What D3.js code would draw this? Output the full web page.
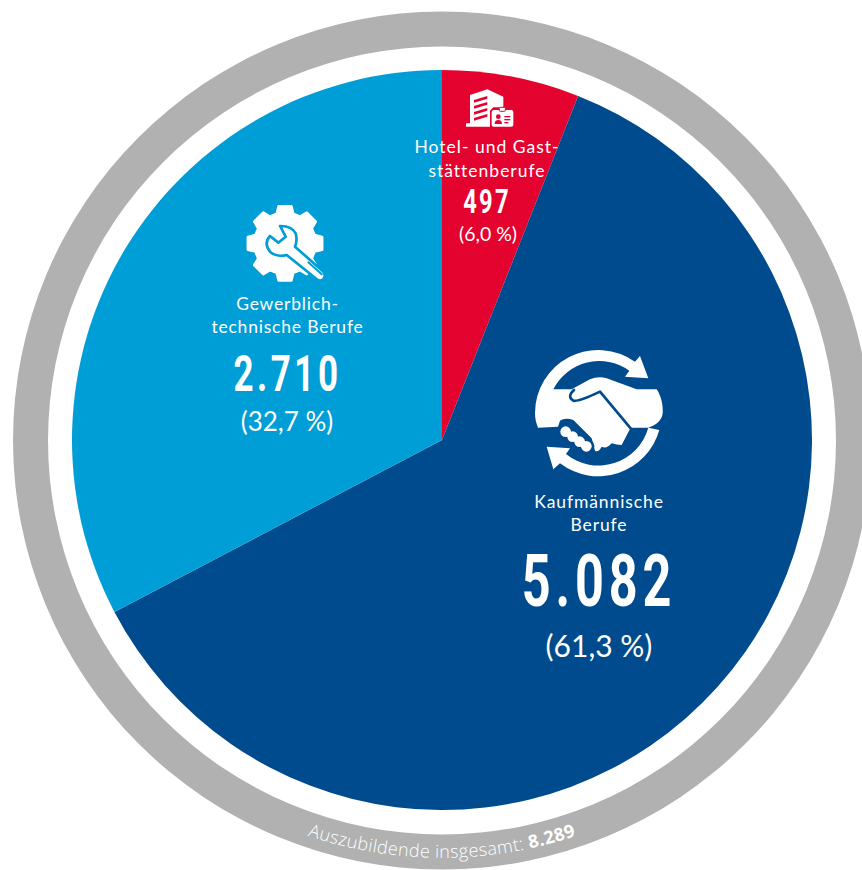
<!DOCTYPE html>
<html><head><meta charset="utf-8">
<script src="https://cdn.jsdelivr.net/npm/d3@7/dist/d3.min.js"></script>
<style>html,body{margin:0;padding:0;background:#fff;overflow:hidden}svg{display:block}</style>
</head><body><div id="c"></div>
<script>
const categories=["Hotel- und Gaststättenberufe","Kaufmännische Berufe","Gewerblich-technische Berufe"];
const values=[497,5082,2710];
const valueLabels=["497","5.082","2.710"];
const percentLabels=["(6,0 %)","(61,3 %)","(32,7 %)"];
const nameLines=[["Hotel- und Gast-","stättenberufe"],["Kaufmännische","Berufe"],["Gewerblich-","technische Berufe"]];
const colors=["#e4032e","#004b8d","#009ed6"];
const totalPrefix="Auszubildende insgesamt: ";
const totalLabel="8.289";

const W=862,H=870,cx=442,cy=440;
const svg=d3.select("#c").append("svg").attr("width",W).attr("height",H);
const ring=d3.arc()({innerRadius:394,outerRadius:429,startAngle:0,endAngle:2*Math.PI});
svg.append("path").attr("d",ring).attr("transform",`translate(${cx},${cy+0.5})`).attr("fill","#b0b1b0");
const pie=d3.pie().sort(null).value(d=>d)(values);
const arc=d3.arc().innerRadius(0).outerRadius(370);
svg.append("g").attr("transform",`translate(${cx},${cy})`).selectAll("path").data(pie).join("path")
  .attr("d",arc).attr("fill",(d,i)=>colors[i]);

// curved total label
const defs=svg.append("defs");
const rr=418;
defs.append("path").attr("id","tp").attr("d",`M${cx-rr},${cy} A${rr},${rr} 0 0 0 ${cx+rr},${cy}`);
const t=svg.append("text").attr("fill","#fff").attr("font-family","'Open Sans',sans-serif").attr("font-size",18).attr("letter-spacing",0.4)
  .append("textPath").attr("href","#tp").attr("startOffset","50%").attr("text-anchor","middle");
t.append("tspan").text(totalPrefix).attr("font-weight",300);
t.append("tspan").text(totalLabel).attr("font-weight",700);

// label layout per slice
const layout=[
 {x:487,name:[153,177],nameSize:17.5,nameLs:1.0,val:213,valSize:33,valLs:3,sx:0.72,pct:[488,241],pctSize:19.5},
 {x:599,name:[508,531],nameSize:17.5,nameLs:0.9,val:606,valSize:72,valLs:7,sx:0.70,pct:[599,657],pctSize:30},
 {x:287.5,name:[310,333],nameSize:17.5,nameLs:0.8,val:391,valSize:50,valLs:5,sx:0.70,pct:[287,431],pctSize:26}
];
const numFont="Roboto,'Liberation Sans',sans-serif";
const din="'Lato','Open Sans',sans-serif";
layout.forEach((l,i)=>{
  const g=svg.append("g").attr("fill","#fff").attr("text-anchor","middle");
  nameLines[i].forEach((s,j)=>g.append("text").attr("x",l.x).attr("y",l.name[j]).text(s)
    .attr("font-family",din).attr("font-size",l.nameSize).attr("letter-spacing",l.nameLs).attr("font-weight",400));
  g.append("text").attr("transform",`translate(${l.x},${l.val}) scale(${l.sx},1)`).text(valueLabels[i])
    .attr("font-family",numFont).attr("font-weight",700).attr("font-size",l.valSize).attr("letter-spacing",l.valLs);
  g.append("text").attr("x",l.pct[0]).attr("y",l.pct[1]).text(percentLabels[i])
    .attr("font-family",din).attr("font-weight",400).attr("font-size",l.pctSize);
});

// icons (drawn in 3x crop coordinates)
const white="#fff";
// building
const b=svg.append("g").attr("transform","translate(400,70) scale(0.3333)");
b.append("path").attr("fill",white).attr("d","M198,170 L198,160 L210,160 L210,75 L262,58 L310,80 L310,112 L280,112 L270,122 L270,170 Z");
[[222,90,262,78],[222,108,262,96],[222,126,262,114],[222,144,262,132]].forEach(p=>
  b.append("path").attr("fill",colors[0]).attr("d",`M${p[0]},${p[1]} L${p[2]},${p[3]} L${p[2]},${p[3]+8} L${p[0]},${p[1]+8} Z`));
b.append("rect").attr("x",275).attr("y",120).attr("width",65).attr("height",50).attr("rx",6).attr("fill",white);
b.append("rect").attr("x",298).attr("y",112).attr("width",18).attr("height",12).attr("rx",3).attr("fill",white).attr("stroke",colors[0]).attr("stroke-width",3);
b.append("circle").attr("cx",295).attr("cy",140).attr("r",7).attr("fill",colors[0]);
b.append("path").attr("fill",colors[0]).attr("d","M284,162 Q284,150 295,150 Q306,150 306,162 Z");
[138,147,156].forEach(y=>b.append("rect").attr("x",313).attr("y",y).attr("width",y==156?12:18).attr("height",4).attr("fill",colors[0]));

// handshake
const h=svg.append("g").attr("transform","translate(510,330) scale(0.3333)");
h.append("path").attr("fill",white).attr("d","M75,250 A190,190 0 0 1 375,95 L390,78 L415,145 L345,140 L358,122 A155,155 0 0 0 130,178 L185,178 L240,148 Q265,138 290,145 L380,178 L440,178 C455,200 460,230 458,250 C456,270 440,285 415,293 L362,293 L335,345 Q320,345 305,340 Q290,358 275,350 Q265,368 255,362 L245,325 L190,270 Q165,262 150,272 L144,290 L84,293 C78,278 75,265 75,250 Z");
h.append("path").attr("fill",white).attr("d","M448,300 A190,190 0 0 1 150,400 L130,418 L110,350 L180,355 L168,372 A155,155 0 0 0 415,293 Z");
h.append("path").attr("fill","none").attr("stroke",colors[1]).attr("stroke-width",8).attr("stroke-linecap","round").attr("stroke-linejoin","round")
  .attr("d","M192,180 Q170,200 190,212 Q205,216 270,185 L362,295");
const fingers=[[167,305],[188,320],[209,335],[229,349]];
fingers.forEach(p=>h.append("circle").attr("cx",p[0]).attr("cy",p[1]).attr("r",24).attr("fill",colors[1]));
fingers.forEach(p=>h.append("circle").attr("cx",p[0]).attr("cy",p[1]).attr("r",16).attr("fill",white));

// gear + wrench
const w=svg.append("g").attr("transform","translate(245,205) scale(0.3333)");
const gc=[120,115],teeth=8,pts=[];
for(let k=0;k<teeth;k++){
  const a=k*2*Math.PI/teeth-Math.PI/2;
  [[-0.27,92],[-0.17,113],[0.17,113],[0.27,92]].forEach(o=>pts.push([gc[0]+o[1]*Math.cos(a+o[0]),gc[1]+o[1]*Math.sin(a+o[0])]));
}
w.append("path").attr("d",d3.line().curve(d3.curveLinearClosed)(pts)).attr("fill",white).attr("stroke",white).attr("stroke-width",8).attr("stroke-linejoin","round");
const head="M105,63 Q140,62 152,85 Q158,105 150,125 L235,200 Q245,215 232,225 Q222,230 212,220 L125,150 Q95,158 75,140 Q55,115 75,93 L100,113 L122,95 Z";
w.append("path").attr("d",head).attr("fill",white).attr("stroke",colors[2]).attr("stroke-width",8).attr("stroke-linejoin","round");
w.append("path").attr("d","M190,172 L230,208").attr("stroke",colors[2]).attr("stroke-width",6).attr("stroke-linecap","round");
</script></body></html>
